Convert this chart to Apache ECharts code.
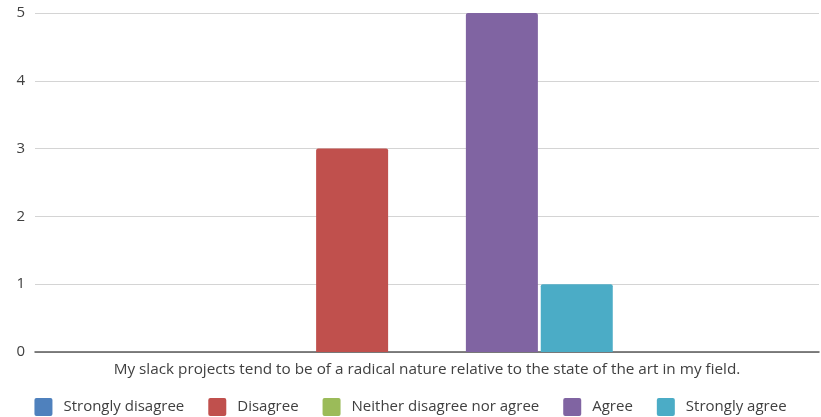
<!DOCTYPE html>
<html>
<head>
<meta charset="utf-8">
<script src="https://cdn.jsdelivr.net/npm/echarts@6/dist/echarts.min.js"></script>
<style>
  html, body { margin: 0; padding: 0; background: #fff; }
  #chart { width: 821px; height: 417px; }
</style>
</head>
<body>
<div id="chart"></div>
<script>
// Survey responses for a single statement
const categories = ['My slack projects tend to be of a radical nature relative to the state of the art in my field.'];
const seriesNames = ['Strongly disagree', 'Disagree', 'Neither disagree nor agree', 'Agree', 'Strongly agree'];
const seriesValues = [[0], [3], [0], [5], [1]];
const seriesColors = ['#4F81BD', '#C0504D', '#9BBB59', '#8064A2', '#4BACC6'];
const yTicks = [0, 1, 2, 3, 4, 5];

const font = 'Open Sans, Noto Sans, sans-serif';
// square legend swatch with slightly rounded corners
const swatch = 'path://M2,0H16Q18,0 18,2V16Q18,18 16,18H2Q0,18 0,16V2Q0,0 2,0Z';
const chart = echarts.init(document.getElementById('chart'), null, { renderer: 'canvas' });

chart.setOption({
  animation: false,
  backgroundColor: '#ffffff',
  grid: { left: 35, right: 2, top: 13, bottom: 65 },
  legend: {
    data: seriesNames,
    top: 393,
    left: 'center',
    itemWidth: 18,
    itemHeight: 18,
    itemGap: 24,
    icon: swatch,
    textStyle: { fontFamily: font, fontSize: 15, color: '#404040', padding: [0, 0, 0, 6] }
  },
  xAxis: {
    type: 'category',
    data: categories,
    axisLine: { lineStyle: { color: '#595959', width: 1.5 } },
    axisTick: { show: false },
    axisLabel: { fontFamily: font, fontSize: 15.3, color: '#404040', margin: 10 }
  },
  yAxis: {
    type: 'value',
    min: yTicks[0],
    max: yTicks[yTicks.length - 1],
    interval: 1,
    axisLine: { show: false },
    axisTick: { show: false },
    splitLine: { lineStyle: { color: '#d4d4d4', width: 1.2 } },
    axisLabel: { fontFamily: font, fontSize: 15, color: '#404040', margin: 10 }
  },
  series: seriesNames.map((name, i) => ({
    name: name,
    type: 'bar',
    data: seriesValues[i],
    barWidth: 72,
    barGap: '4%',
    barCategoryGap: '52%',
    itemStyle: { color: seriesColors[i], borderRadius: [2, 2, 0, 0] }
  }))
});
</script>
</body>
</html>
